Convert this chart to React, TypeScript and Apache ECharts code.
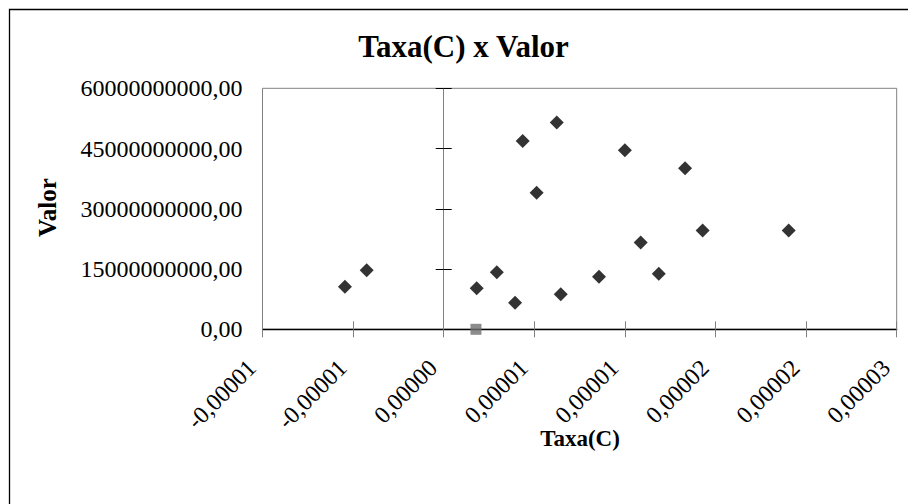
import React, { useEffect, useRef } from "react";
import * as echarts from "echarts";

// Taxa(C) values (x) and Valor values (y)
const taxaC = [
  -5.45e-6, -4.25e-6, 1.82e-6, 2.93e-6, 3.94e-6, 4.36e-6, 5.13e-6, 6.24e-6,
  6.46e-6, 8.57e-6, 10.0e-6, 10.87e-6, 11.87e-6, 13.32e-6, 14.29e-6, 19.04e-6,
];
const valor = [
  10.6e9, 14.7e9, 10.2e9, 14.2e9, 6.6e9, 46.9e9, 34.0e9, 51.5e9,
  8.7e9, 13.1e9, 44.6e9, 21.6e9, 13.8e9, 40.1e9, 24.6e9, 24.6e9,
];
// second (grey square) series
const taxaC2 = [1.78e-6];
const valor2 = [0];

const titleText = "Taxa(C) x Valor";
const xName = "Taxa(C)";
const yName = "Valor";

const xMin = -0.00001;
const xMax = 0.000025;
const xInterval = 0.000005;
const yMin = 0;
const yMax = 60000000000;
const yInterval = 15000000000;

const FONT = "'Liberation Serif', 'Times New Roman', serif";

const fmtX = (v: number) => {
  if (Math.abs(v) < 1e-15) v = 0;
  return v.toFixed(5).replace(".", ",");
};
const fmtY = (v: number) => v.toFixed(2).replace(".", ",");

export default function App() {
  const ref = useRef<HTMLDivElement>(null);
  useEffect(() => {
    if (!ref.current) return;
    const chart = echarts.init(ref.current, null, { renderer: "svg" });
    const xBase = {
      type: "value",
      min: xMin,
      max: xMax,
      interval: xInterval,
      position: "bottom",
      splitLine: { show: false },
    };
    const yBase = {
      type: "value",
      min: yMin,
      max: yMax,
      interval: yInterval,
      position: "left",
      splitLine: { show: false },
    };
    chart.setOption({
      animation: false,
      backgroundColor: "#ffffff",
      grid: {
        left: 262.5,
        top: 88.3,
        right: 11.3,
        bottom: 174.7,
        show: true,
        borderColor: "#808080",
        borderWidth: 1,
        backgroundColor: "transparent",
        containLabel: false,
        outerBoundsMode: "none",
      },
      xAxis: [
        {
          ...xBase,
          axisLine: { show: true, onZero: false, lineStyle: { color: "#000", width: 1.3 } },
          axisTick: { show: true, length: 8, lineStyle: { color: "#808080", width: 1 } },
          axisLabel: {
            show: true,
            rotate: 45,
            margin: 41,
            verticalAlign: "bottom",
            padding: [0, 3, 0, 0],
            fontFamily: FONT,
            fontSize: 24,
            color: "#000",
            formatter: fmtX,
          },
        },
        {
          ...xBase,
          axisLine: { show: false, onZero: false },
          axisTick: { show: true, inside: true, length: 8, lineStyle: { color: "#808080", width: 1 } },
          axisLabel: { show: false },
        },
      ],
      yAxis: [
        {
          ...yBase,
          axisLine: { show: false, onZero: false },
          axisTick: { show: false },
          axisLabel: {
            show: true,
            margin: 20,
            fontFamily: FONT,
            fontSize: 24,
            color: "#000",
            formatter: fmtY,
          },
        },
        {
          ...yBase,
          axisLine: { show: true, onZero: true, onZeroAxisIndex: 0, lineStyle: { color: "#808080", width: 1 } },
          axisTick: { show: true, length: 8, lineStyle: { color: "#000", width: 1 } },
          axisLabel: { show: false },
        },
        {
          ...yBase,
          axisLine: { show: false, onZero: true, onZeroAxisIndex: 0 },
          axisTick: { show: true, inside: true, length: 8, lineStyle: { color: "#000", width: 1 } },
          axisLabel: { show: false },
        },
      ],
      graphic: [
        {
          type: "polyline",
          shape: { points: [[9.5, 520], [9.5, 9.5], [930, 9.5]] },
          style: { stroke: "#000", lineWidth: 1.3, fill: "none" },
          silent: true,
        },
        {
          type: "text",
          x: 463.5,
          y: 46,
          style: {
            text: titleText,
            font: `bold 31px ${FONT}`,
            fill: "#000",
            align: "center",
            verticalAlign: "middle",
          },
        },
        {
          type: "text",
          x: 580,
          y: 438,
          style: {
            text: xName,
            font: `bold 23px ${FONT}`,
            fill: "#000",
            align: "center",
            verticalAlign: "middle",
          },
        },
        {
          type: "text",
          x: 47.5,
          y: 207.5,
          rotation: Math.PI / 2,
          style: {
            text: yName,
            font: `bold 25px ${FONT}`,
            fill: "#000",
            align: "center",
            verticalAlign: "middle",
          },
        },
      ],
      series: [
        {
          name: yName,
          type: "scatter",
          xAxisIndex: 0,
          yAxisIndex: 0,
          symbol: "diamond",
          symbolSize: 14,
          itemStyle: { color: "#000" },
          data: taxaC.map((x, i) => [x, valor[i]]),
          z: 5,
        },
        {
          name: "s2",
          type: "scatter",
          xAxisIndex: 0,
          yAxisIndex: 0,
          symbol: "rect",
          symbolSize: 11,
          itemStyle: { color: "#6f6f6f" },
          data: taxaC2.map((x, i) => [x, valor2[i]]),
          z: 5,
        },
      ],
    });
    return () => chart.dispose();
  }, []);
  return (
    <div
      ref={ref}
      style={{ position: "fixed", left: 0, top: 0, width: 908, height: 504, background: "#fff" }}
    />
  );
}
